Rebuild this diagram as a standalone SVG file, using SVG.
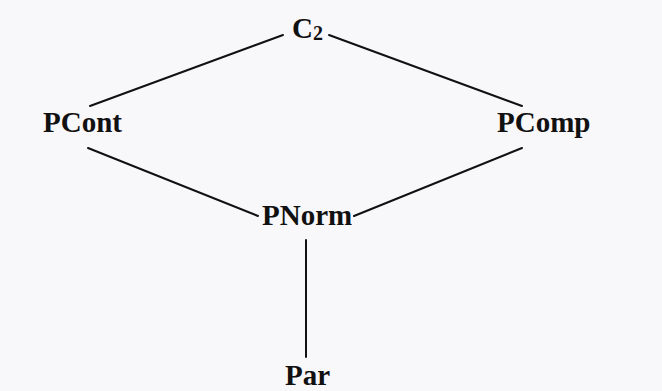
<svg xmlns="http://www.w3.org/2000/svg" width="662" height="391" viewBox="0 0 662 391">
<style>
.lbl{font-family:"Liberation Serif","Times New Roman",serif;font-weight:bold;font-size:29px;fill:#111;}
.big{font-size:29px;}
.sub{font-size:20px;}
.edge{stroke:#111;stroke-width:2;fill:none;stroke-linecap:round;}
</style>
<rect width="662" height="391" fill="#f8f7fa"/>
<g id="connectors">
<line class="edge" x1="283" y1="35" x2="90" y2="106"/>
<line class="edge" x1="329" y1="35" x2="522" y2="106"/>
<line class="edge" x1="88" y1="148" x2="258" y2="216"/>
<line class="edge" x1="522" y1="148" x2="354" y2="216"/>
<line class="edge" x1="306" y1="240" x2="306" y2="357"/>
</g>
<g id="C2"><text class="lbl" x="292" y="38"><tspan class="big">C</tspan><tspan class="sub" dy="2">2</tspan></text></g>
<g id="PCont"><text class="lbl" x="43" y="132">PCont</text></g>
<g id="PComp"><text class="lbl" x="497" y="132">PComp</text></g>
<g id="PNorm"><text class="lbl" x="262" y="225">PNorm</text></g>
<g id="Par"><text class="lbl" x="285" y="385">Par</text></g>
</svg>
